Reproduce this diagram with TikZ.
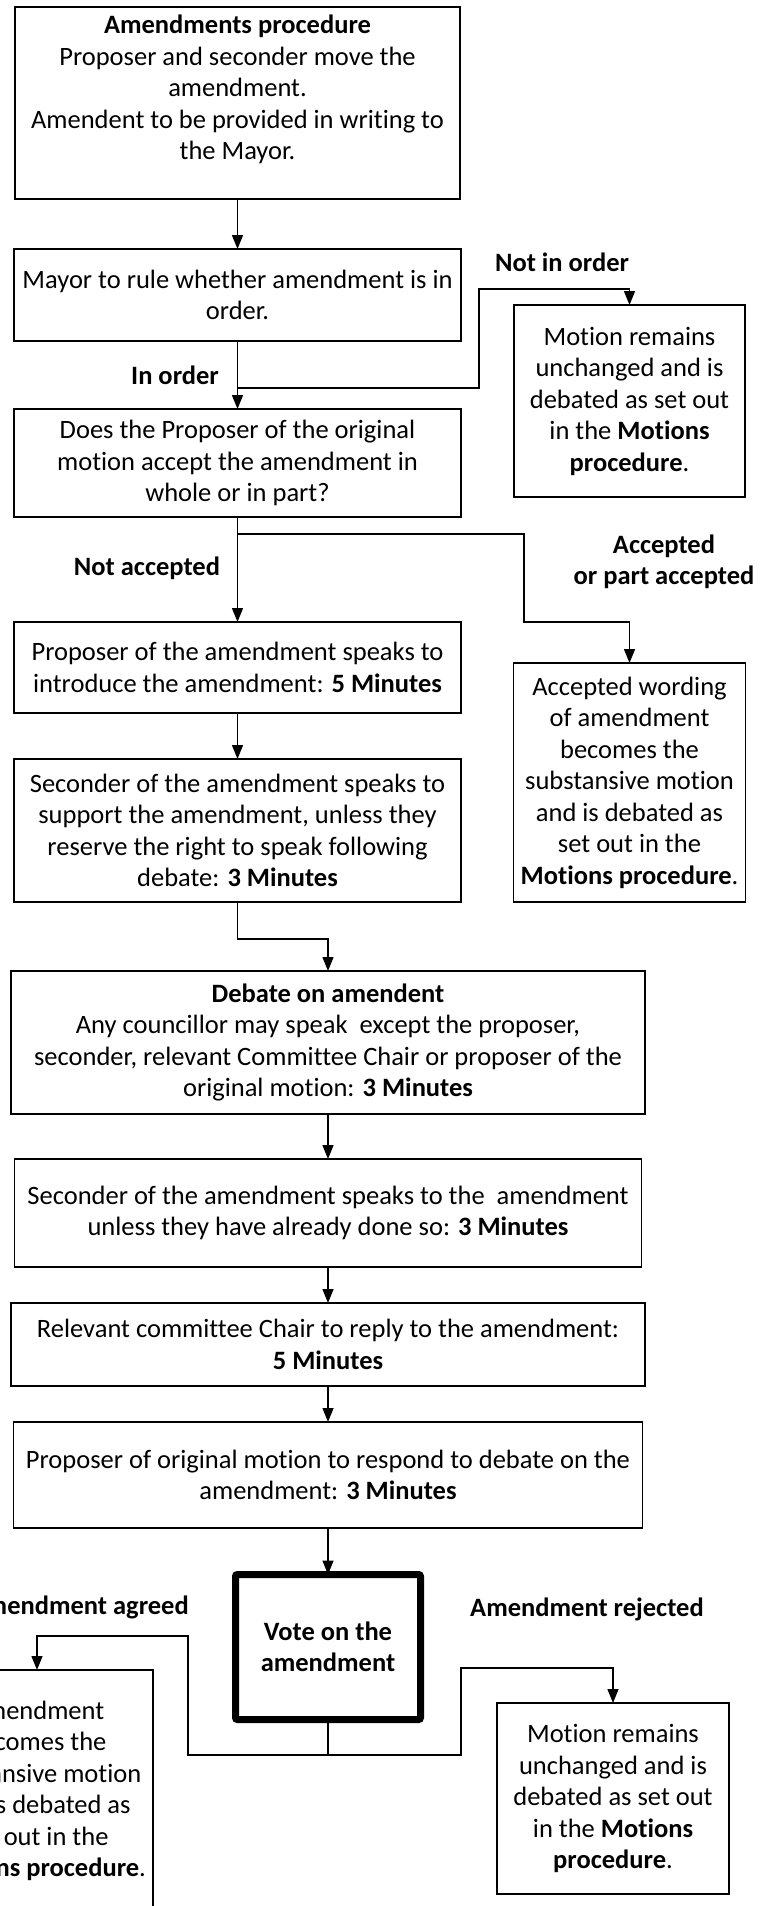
\documentclass[tikz,border=0pt]{standalone}
\usepackage{fontspec}
\setmainfont{Carlito}[Ligatures=NoCommon]
\usetikzlibrary{arrows.meta}
\tikzset{
  box/.style={draw=black, line width=1.4pt, align=center, inner sep=0pt, outer sep=0pt,
    font=\fontsize{26.5}{31.5}\selectfont},
  votebox/.style={draw=black, line width=7pt, rounded corners=2pt, align=center, inner sep=0pt,
    outer sep=0pt, font=\fontsize{26.5}{31.5}\selectfont\bfseries},
  lbl/.style={align=center, inner sep=0pt, font=\fontsize{26.5}{31}\selectfont\bfseries},
  ln/.style={line width=1.4pt},
  arr/.style={ln, -{Triangle[length=14pt,width=11pt]}},
}
\begin{document}
\begin{tikzpicture}[x=1pt,y=-1pt]
\clip (0,0) rectangle (772,1906);
\fill[white] (0,0) rectangle (772,1906);
% left column
\node[box, minimum width=445pt, minimum height=192pt] (b1) at (237.5,103)
  {\textbf{Amendments procedure}\\Proposer and seconder move the\\amendment.\\Amendent to be provided in writing to\\the Mayor.\\\mbox{}};
\node[box, minimum width=447pt, minimum height=92pt] (b2) at (237.5,295)
  {Mayor to rule whether amendment is in\\order.};
\node[box, minimum width=447pt, minimum height=108pt] (b3) at (237.5,463)
  {Does the Proposer of the original\\motion accept the amendment in\\whole or in part?};
\node[box, minimum width=447pt, minimum height=91pt] (b4) at (237.5,667.5)
  {Proposer of the amendment speaks to\\introduce the amendment: \textbf{5 Minutes}};
\node[box, minimum width=447pt, minimum height=143pt] (b5) at (237.5,830.5)
  {Seconder of the amendment speaks to\\support the amendment, unless they\\reserve the right to speak following\\debate: \textbf{3 Minutes}};
% right column
\node[box, minimum width=231pt, minimum height=192pt] (r1) at (629.5,401)
  {Motion remains\\unchanged and is\\debated as set out\\in the \textbf{Motions}\\\textbf{procedure}.};
\node[box, minimum width=232pt, minimum height=239pt] (r2) at (629.5,782.5)
  {Accepted wording\\of amendment\\becomes the\\substansive motion\\and is debated as\\set out in the\\\textbf{Motions procedure}.};
% wide column
\node[box, minimum width=634pt, minimum height=143pt] (b6) at (328,1042.5)
  {\textbf{Debate on amendent}\\Any councillor may speak~ except the proposer,\\seconder, relevant Committee Chair or proposer of the\\original motion: \textbf{3 Minutes}};
\node[box, minimum width=627pt, minimum height=108pt] (b7) at (328,1213)
  {Seconder of the amendment speaks to the~ amendment\\unless they have already done so: \textbf{3 Minutes}};
\node[box, minimum width=634pt, minimum height=83pt] (b8) at (328,1344.5)
  {Relevant committee Chair to reply to the amendment:\\\textbf{5 Minutes}};
\node[box, minimum width=629pt, minimum height=106pt] (b9) at (328,1475)
  {Proposer of original motion to respond to debate on the\\amendment: \textbf{3 Minutes}};
\node[votebox, minimum width=185pt, minimum height=145pt] (vote) at (328,1647)
  {Vote on the\\amendment};
\node[box, minimum width=232pt, minimum height=242pt] (lb) at (37,1791)
  {Amendment\\becomes the\\substansive motion\\and is debated as\\set out in the\\\textbf{Motions procedure}.};
\node[box, minimum width=232pt, minimum height=191pt] (r3) at (613,1798.5)
  {Motion remains\\unchanged and is\\debated as set out\\in the \textbf{Motions}\\\textbf{procedure}.};
% labels
\node[lbl] (l1) at (562,262) {Not in order};
\node[lbl] (l2) at (175,375) {In order};
\node[lbl] (l3) at (147,568) {Not accepted};
\node[lbl] (l4) at (664,562) {Accepted\\or part accepted};
\node[lbl, anchor=east] (l5) at (189,1607) {Amendment agreed};
\node[lbl] (l6) at (587,1609) {Amendment rejected};
% connectors
\coordinate (j1) at (237.5,388);
\coordinate (j2) at (237.5,534);
\coordinate (j3) at (328,1755);
\draw[arr] (b1) -- (b2);
\draw[arr] (b2) -- (b3);
\draw[arr] (j1) -| (479,289) -| (r1.north);
\draw[arr] (b3) -- (b4);
\draw[arr] (j2) -| (524,622) -| (r2.north);
\draw[arr] (b4) -- (b5);
\draw[arr] (b5.south) -- ++(0,37) -| (b6.north);
\draw[arr] (b6) -- (b7);
\draw[arr] (b7) -- (b8);
\draw[arr] (b8) -- (b9);
\draw[arr] (b9) -- (vote);
\draw[ln] (vote.south) -- (j3);
\draw[arr] (j3) -| (188,1636) -| (lb.north);
\draw[arr] (j3) -| (461,1668) -| (r3.north);
\end{tikzpicture}
\end{document}
